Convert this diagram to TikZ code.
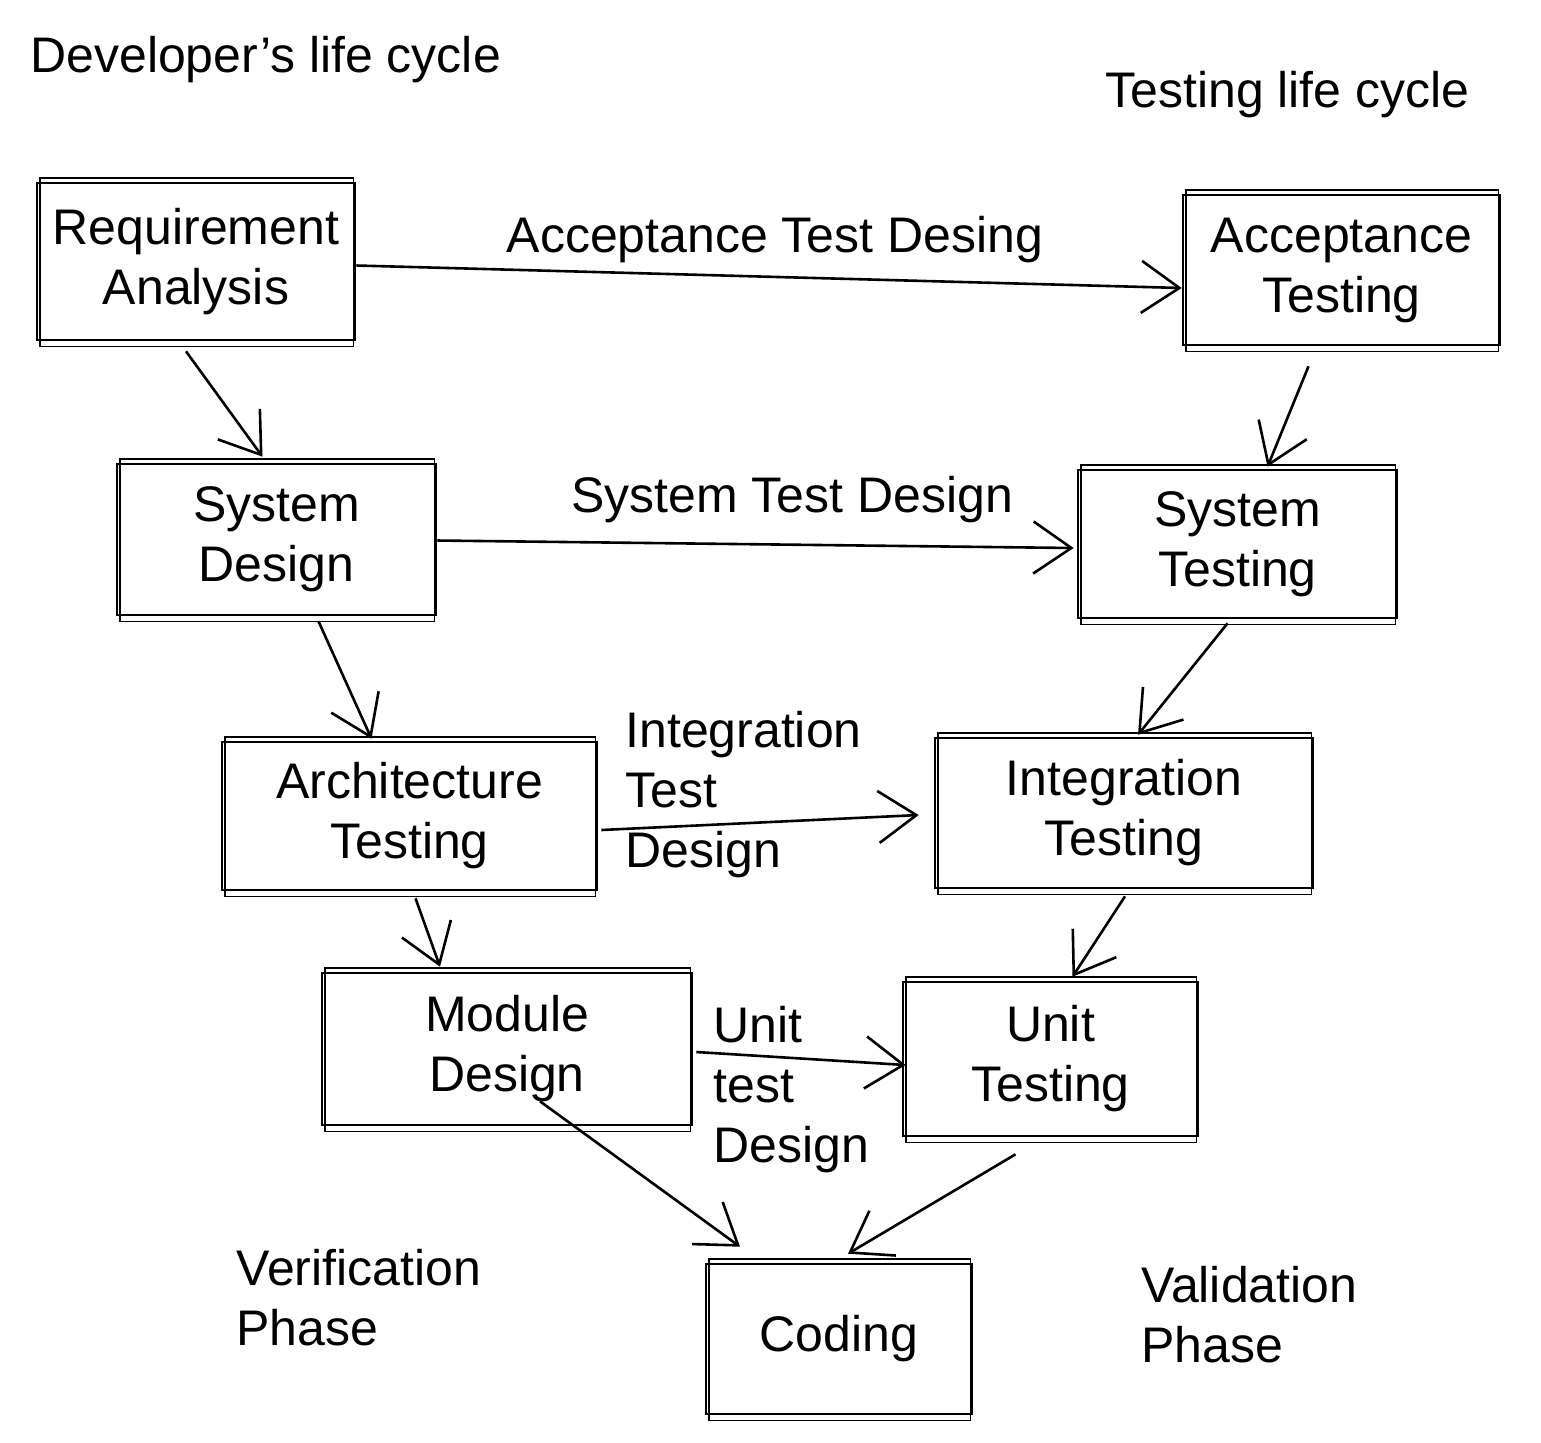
\documentclass[tikz,border=0pt]{standalone}
\usepackage{fontspec}
\setmainfont{Liberation Sans}
\usetikzlibrary{arrows.meta,calc}
\begin{document}
\begin{tikzpicture}[x=0.5pt,y=-0.5pt,
  txt/.style={font=\fontsize{25}{30}\selectfont, inner sep=0pt, align=center},
  lbl/.style={font=\fontsize{25}{30}\selectfont, inner sep=0pt, align=left, anchor=west},
  box/.style 2 args={draw, line width=1.3pt, txt, minimum width=#1*0.5pt, minimum height=#2*0.5pt},
  sketch/.style={line width=0.8pt},
  arr/.style={line width=1.3pt, -{Straight Barb[length=19pt,width=26pt]}}
]
\fill[white] (0,0) rectangle (1541,1442);
\useasboundingbox (0,0) rectangle (1541,1442);

% boxes
\node[box={318}{157}] (req)   at (196,261.5)   {Requirement\\Analysis};
\node[box={317}{150}] (acc)   at (1341.5,270)  {Acceptance\\Testing};
\node[box={319}{151}] (sysd)  at (276.5,539.5) {System\\Design};
\node[box={319}{148}] (syst)  at (1237.5,544)  {System\\Testing};
\node[box={375}{148}] (arch)  at (409.5,816)   {Architecture\\Testing};
\node[box={378}{150}] (integ) at (1124,813)    {Integration\\Testing};
\node[box={370}{152}] (mod)   at (507,1049)    {Module\\Design};
\node[box={295}{154}] (unit)  at (1050.5,1059) {Unit\\Testing};
\node[box={266}{150}] (cod)   at (839,1339)    {Coding};

% sketchy second strokes
\foreach \n in {req,acc,sysd,syst,arch,integ,mod,unit,cod}
  \draw[sketch] ($(\n.north west)+(4,-4)$) rectangle ($(\n.south east)+(-3,5)$);

% free labels
\node[lbl] (dev) at (30,60)   {Developer's life cycle};
\node[lbl] (tlc) at (1105,95) {Testing life cycle};
\node[txt] (atd) at (775,240) {Acceptance Test Desing};
\node[txt] (std) at (792,500) {System Test Design};
\node[lbl] (itd) at (625,795) {Integration\\Test\\Design};
\node[lbl] (utd) at (713,1090) {Unit\\test\\Design};
\node[lbl] (ver) at (236,1298) {Verification\\Phase};
\node[lbl] (val) at (1141,1315) {Validation\\Phase};

% connectors
\draw[arr] ($(req.east)+(0,4)$) -- ($(acc.west)+(0,18)$);
\draw[arr] ($(req.south)+(-10,10)$) -- ($(sysd.north)+(-14,-6)$);
\draw[arr] ($(acc.south)+(-33,20)$) -- ($(syst.north)+(30,-2)$);
\draw[arr] ($(sysd.east)+(0,1)$) -- ($(syst.west)+(-3,4)$);
\draw[arr] ($(sysd.south)+(42,5)$) -- ($(arch.north)+(-38,-2)$);
\draw[arr] ($(syst.south)+(-10,4)$) -- ($(integ.north)+(14,-2)$);
\draw[arr] ($(arch.east)+(3,14)$) -- ($(integ.west)+(-15,2)$);
\draw[arr] ($(arch.south)+(6,7)$) -- ($(mod.north)+(-67,-5)$);
\draw[arr] ($(integ.south)+(1,7)$) -- ($(unit.north)+(22,-4)$);
\draw[arr] ($(mod.east)+(3,3)$) -- ($(unit.west)+(4,6)$);
\draw[arr] ($(mod.south)+(33,-25)$) -- ($(cod.north)+(-99,-16)$);
\draw[arr] ($(unit.south)+(-35,17)$) -- ($(cod.north)+(9,-9)$);
\end{tikzpicture}
\end{document}
